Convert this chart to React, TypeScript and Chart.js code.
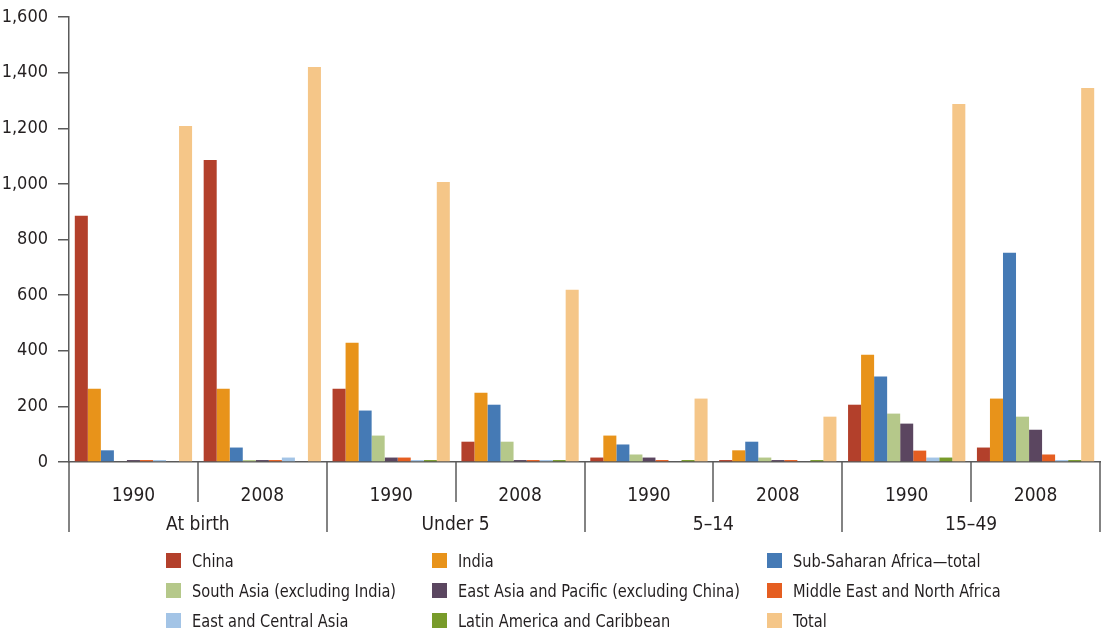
import React, { useEffect, useRef } from "react";
import { Chart, registerables } from "chart.js";

Chart.register(...registerables);

const yearLabels = ["1990", "2008", "1990", "2008", "1990", "2008", "1990", "2008"];
const ageGroups = ["At birth", "Under 5", "5\u201314", "15\u201349"];
const yTicks = [0, 200, 400, 600, 800, 1000, 1200, 1400, 1600];

const seriesNames = [
  "China",
  "India",
  "Sub-Saharan Africa\u2014total",
  "South Asia (excluding India)",
  "East Asia and Pacific (excluding China)",
  "Middle East and North Africa",
  "East and Central Asia",
  "Latin America and Caribbean",
  "Total",
];

const china = [885, 1086, 263, 73, 16, 7, 206, 52];
const india = [263, 263, 429, 249, 95, 42, 386, 228];
const subSaharanAfrica = [42, 52, 185, 206, 63, 73, 307, 752];
const southAsia = [0, 7, 95, 73, 27, 16, 174, 163];
const eastAsiaPacific = [7, 7, 16, 7, 16, 7, 138, 116];
const middleEastNorthAfrica = [7, 7, 16, 7, 7, 7, 41, 27];
const eastCentralAsia = [7, 16, 7, 7, 0, 0, 16, 7];
const latinAmerica = [0, 0, 7, 7, 7, 7, 16, 7];
const total = [1208, 1420, 1007, 619, 228, 163, 1287, 1345];

const seriesValues = [
  china,
  india,
  subSaharanAfrica,
  southAsia,
  eastAsiaPacific,
  middleEastNorthAfrica,
  eastCentralAsia,
  latinAmerica,
  total,
];

const seriesColors = [
  "#B3402B",
  "#E8931A",
  "#457AB5",
  "#B5C88A",
  "#5B4660",
  "#E55E21",
  "#A3C4E6",
  "#789B2A",
  "#F5C688",
];

const FONT = '"Liberation Sans Narrow", "DejaVu Sans Condensed", "Open Sans", sans-serif';
const AXIS_COLOR = "#5a5a5a";
const TEXT_COLOR = "#231f20";

const separatorPlugin = {
  id: "separators",
  afterDraw(chart: any) {
    const { ctx, chartArea } = chart;
    const xs = chart.scales.x;
    const n = yearLabels.length;
    const step = xs.getPixelForValue(1) - xs.getPixelForValue(0);
    const bottom = chartArea.bottom;
    ctx.save();
    ctx.strokeStyle = AXIS_COLOR;
    ctx.lineWidth = 1.5;
    for (let i = 0; i <= n; i++) {
      const x = Math.round(xs.getPixelForValue(0) - step / 2 + i * step);
      const len = i % 2 === 0 ? 70 : 40;
      ctx.beginPath();
      ctx.moveTo(x, bottom);
      ctx.lineTo(x, bottom + len);
      ctx.stroke();
    }
    ctx.fillStyle = TEXT_COLOR;
    ctx.font = `19px ${FONT}`;
    ctx.textAlign = "center";
    ctx.textBaseline = "middle";
    ageGroups.forEach((g, k) => {
      const x = (xs.getPixelForValue(2 * k) + xs.getPixelForValue(2 * k + 1)) / 2;
      ctx.fillText(g, x, bottom + 63);
    });
    ctx.restore();
  },
};

export default function App() {
  const canvasRef = useRef<HTMLCanvasElement | null>(null);

  useEffect(() => {
    if (!canvasRef.current) return;
    const chart = new Chart(canvasRef.current, {
      type: "bar",
      data: {
        labels: yearLabels,
        datasets: seriesNames.map((name, i) => ({
          label: name,
          data: seriesValues[i],
          backgroundColor: seriesColors[i],
          borderWidth: 0,
          barPercentage: 1,
          categoryPercentage: 0.91,
        })),
      },
      options: {
        responsive: false,
        animation: false,
        layout: { padding: { top: 17, right: 1, left: 0, bottom: 0 } },
        plugins: {
          legend: { display: false },
          tooltip: { enabled: false },
        },
        scales: {
          x: {
            grid: { display: false, drawTicks: false },
            border: { display: true, color: AXIS_COLOR, width: 1.5 },
            ticks: {
              color: TEXT_COLOR,
              font: { family: FONT, size: 19 },
              padding: 23,
              maxRotation: 0,
              autoSkip: false,
            },
            afterFit: (s: any) => {
              s.height = 168;
              s.paddingLeft = 0;
              s.paddingRight = 0;
            },
          },
          y: {
            min: 0,
            max: 1600,
            afterBuildTicks: (s: any) => {
              s.ticks = yTicks.map((v) => ({ value: v }));
            },
            grid: {
              drawOnChartArea: false,
              drawTicks: true,
              tickLength: 11,
              color: AXIS_COLOR,
              lineWidth: 1.5,
            },
            border: { display: true, color: AXIS_COLOR, width: 1.5 },
            ticks: {
              color: TEXT_COLOR,
              font: { family: FONT, size: 18 },
              padding: 10,
              callback: (v: any) => Number(v).toLocaleString("en-US"),
            },
            afterFit: (s: any) => {
              s.width = 69;
              s.paddingTop = 0;
              s.paddingBottom = 0;
            },
          },
        },
      },
      plugins: [separatorPlugin],
    });
    return () => chart.destroy();
  }, []);

  const legendCols = [166, 432, 767];
  const legendRows = [560, 590, 620];

  return (
    <div
      style={{
        position: "absolute",
        left: 0,
        top: 0,
        width: 1101,
        height: 630,
        background: "#fff",
        fontFamily: FONT,
      }}
    >
      <canvas ref={canvasRef} width={1101} height={630} style={{ display: "block" }} />
      {seriesNames.map((name, i) => {
        const col = i % 3;
        const row = Math.floor(i / 3);
        return (
          <div
            key={name}
            style={{
              position: "absolute",
              left: legendCols[col],
              top: legendRows[row] - 12,
              height: 24,
              display: "flex",
              alignItems: "center",
              whiteSpace: "nowrap",
              color: TEXT_COLOR,
              fontSize: 18,
            }}
          >
            <span
              style={{
                display: "inline-block",
                width: 15,
                height: 15,
                background: seriesColors[i],
                marginRight: 11,
                flex: "none",
              }}
            />
            <span
              style={{
                display: "inline-block",
                transform: "scaleX(0.9)",
                transformOrigin: "left center",
              }}
            >
              {name}
            </span>
          </div>
        );
      })}
    </div>
  );
}
